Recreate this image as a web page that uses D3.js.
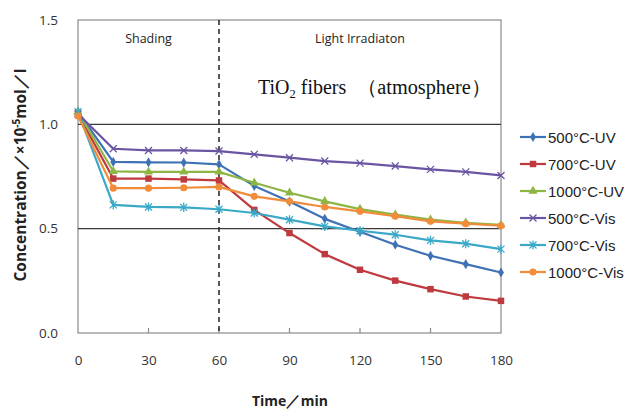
<!DOCTYPE html>
<html>
<head>
<meta charset="utf-8">
<script src="https://cdn.jsdelivr.net/npm/d3@7"></script>
<style>
  html, body { margin: 0; padding: 0; background: #fff; }
  svg { display: block; }
</style>
</head>
<body>
<svg id="chart" width="627" height="409"></svg>
<script>
// Sampling times (min)
const times = [0, 15, 30, 45, 60, 75, 90, 105, 120, 135, 150, 165, 180];

// Concentration (×10^-5 mol/l) for each calcination temperature / light source
const uv500  = [1.06, 0.82, 0.818, 0.817, 0.808, 0.705, 0.63, 0.547, 0.485, 0.423, 0.37, 0.33, 0.29];
const uv700  = [1.05, 0.74, 0.740, 0.736, 0.731, 0.59, 0.479, 0.378, 0.303, 0.251, 0.21, 0.175, 0.154];
const uv1000 = [1.06, 0.775, 0.772, 0.772, 0.772, 0.72, 0.672, 0.631, 0.594, 0.567, 0.543, 0.528, 0.518];
const vis500 = [1.05, 0.883, 0.875, 0.875, 0.872, 0.856, 0.84, 0.824, 0.814, 0.80, 0.784, 0.772, 0.755];
const vis700 = [1.06, 0.614, 0.604, 0.602, 0.593, 0.575, 0.543, 0.511, 0.49, 0.471, 0.444, 0.428, 0.402];
const vis1000= [1.04, 0.694, 0.694, 0.696, 0.70, 0.655, 0.631, 0.604, 0.583, 0.56, 0.535, 0.524, 0.514];

const seriesNames = ["500°C-UV", "700°C-UV", "1000°C-UV", "500°C-Vis", "700°C-Vis", "1000°C-Vis"];
const seriesValues = [uv500, uv700, uv1000, vis500, vis700, vis1000];

const xTicks = [0, 30, 60, 90, 120, 150, 180];
const yTicks = [0.0, 0.5, 1.0, 1.5];
const gridValues = [0.5, 1.0];
const phaseSplit = 60;

const colors = ["#3F72B4", "#BE3A3E", "#8DB544", "#6B55A3", "#3AA9C8", "#F08C3A"];
const markerKinds = ["diamond", "square", "triangle", "x", "star", "circle"];

const svg = d3.select("#chart");
const plot = { left: 78, right: 501, top: 20, bottom: 333 };

const x = d3.scaleLinear().domain([0, 180]).range([plot.left, plot.right]);
const y = d3.scaleLinear().domain([0, 1.5]).range([plot.bottom, plot.top]);

const fontSans = "'Open Sans', 'Liberation Sans', sans-serif";

// Plot frame
svg.append("rect")
  .attr("x", plot.left).attr("y", plot.top)
  .attr("width", plot.right - plot.left).attr("height", plot.bottom - plot.top)
  .attr("fill", "none").attr("stroke", "#8a8a8a").attr("stroke-width", 1.2);

// Horizontal gridlines
svg.append("g").selectAll("line").data(gridValues).join("line")
  .attr("x1", plot.left).attr("x2", plot.right)
  .attr("y1", d => y(d)).attr("y2", d => y(d))
  .attr("stroke", "#3a3a3a").attr("stroke-width", 1.2);

// X axis (ticks point inward, labels below)
const xAxis = d3.axisBottom(x).tickValues(xTicks).tickSize(0).tickPadding(22).tickFormat(d3.format("d"));
const gx = svg.append("g").attr("transform", `translate(0,${plot.bottom})`).call(xAxis);
gx.select(".domain").remove();
gx.selectAll("text").attr("font-family", fontSans).attr("font-size", 13.5).attr("fill", "#333");
svg.append("g").selectAll("line").data(xTicks.slice(1, -1)).join("line")
  .attr("x1", d => x(d)).attr("x2", d => x(d))
  .attr("y1", plot.bottom).attr("y2", plot.bottom - 5)
  .attr("stroke", "#8a8a8a").attr("stroke-width", 1.2);

// Y axis labels
const yAxis = d3.axisLeft(y).tickValues(yTicks).tickSize(0).tickPadding(20).tickFormat(d3.format(".1f"));
const gy = svg.append("g").attr("transform", `translate(${plot.left},0)`).call(yAxis);
gy.select(".domain").remove();
gy.selectAll("text").attr("font-family", fontSans).attr("font-size", 13.5).attr("fill", "#333");

// Boundary between dark adsorption and irradiation phases
svg.append("line")
  .attr("x1", x(phaseSplit)).attr("x2", x(phaseSplit))
  .attr("y1", plot.top).attr("y2", plot.bottom)
  .attr("stroke", "#222").attr("stroke-width", 1.5).attr("stroke-dasharray", "5,4");

// Phase annotations
svg.append("text").attr("x", x(30)).attr("y", 43).attr("text-anchor", "middle")
  .attr("font-family", fontSans).attr("font-size", 12.5).attr("fill", "#222").text("Shading");
svg.append("text").attr("x", x(120)).attr("y", 43).attr("text-anchor", "middle")
  .attr("font-family", fontSans).attr("font-size", 12.5).attr("fill", "#222").text("Light Irradiaton");

const title = svg.append("text").attr("x", 258).attr("y", 94)
  .attr("font-family", "'Liberation Serif', 'DejaVu Serif', serif").attr("font-size", 20).attr("fill", "#111");
title.append("tspan").text("TiO");
title.append("tspan").attr("font-size", 12.5).attr("dy", 4).text("2");
title.append("tspan").attr("dy", -4).text(" fibers");
title.append("tspan").attr("x", 357).attr("textLength", 134).attr("lengthAdjust", "spacingAndGlyphs")
  .text("（atmosphere）");

// Marker shapes
function markerPath(kind, s) {
  switch (kind) {
    case "diamond": return d3.symbol(d3.symbolDiamond, 30)();
    case "square": return d3.symbol(d3.symbolSquare, 42)();
    case "triangle": return d3.symbol(d3.symbolTriangle, 36)();
    case "circle": return d3.symbol(d3.symbolCircle, 40)();
    case "x": return `M${-s},${-s}L${s},${s}M${-s},${s}L${s},${-s}`;
    case "star": return `M${-s},${-s}L${s},${s}M${-s},${s}L${s},${-s}M0,${-s * 1.3}L0,${s * 1.3}`;
  }
}

const line = d3.line().x((d, i) => x(times[i])).y(d => y(d));

seriesValues.forEach((vals, k) => {
  const g = svg.append("g");
  g.append("path").datum(vals)
    .attr("d", line).attr("fill", "none")
    .attr("stroke", colors[k]).attr("stroke-width", 2.2).attr("stroke-linejoin", "round");
  const kind = markerKinds[k];
  const stroked = kind === "x" || kind === "star";
  g.selectAll("path.m").data(vals).join("path").attr("class", "m")
    .attr("transform", (d, i) => `translate(${x(times[i])},${y(d)})`)
    .attr("d", markerPath(kind, 3.5))
    .attr("fill", stroked ? "none" : colors[k])
    .attr("stroke", colors[k]).attr("stroke-width", stroked ? 1.3 : 0);
});

// Legend
const legend = svg.append("g");
seriesNames.forEach((name, k) => {
  const ly = 137 + k * 27;
  const item = legend.append("g").attr("transform", `translate(0,${ly})`);
  item.append("line").attr("x1", 520).attr("x2", 546).attr("y1", 0).attr("y2", 0)
    .attr("stroke", colors[k]).attr("stroke-width", 2.2);
  const kind = markerKinds[k];
  const stroked = kind === "x" || kind === "star";
  item.append("path").attr("transform", "translate(533,0)")
    .attr("d", markerPath(kind, 3.5))
    .attr("fill", stroked ? "none" : colors[k])
    .attr("stroke", colors[k]).attr("stroke-width", stroked ? 1.3 : 0);
  item.append("text").attr("x", 548).attr("y", 5.5)
    .attr("font-family", "'Liberation Sans', Arial, sans-serif").attr("font-size", 15)
    .attr("fill", "#222").text(name);
});

// Axis titles
svg.append("text").attr("x", 290).attr("y", 406).attr("text-anchor", "middle")
  .attr("font-family", fontSans).attr("font-weight", "bold").attr("font-size", 14.5)
  .attr("textLength", 76).attr("lengthAdjust", "spacingAndGlyphs")
  .attr("fill", "#222").text("Time／min");

const yt = svg.append("text")
  .attr("transform", "translate(26,175) rotate(-90)").attr("text-anchor", "middle")
  .attr("font-family", fontSans).attr("font-weight", "bold").attr("font-size", 15.5).attr("fill", "#222");
yt.append("tspan").text("Concentration／×10");
yt.append("tspan").attr("font-size", 10).attr("dy", -6).text("-5");
yt.append("tspan").attr("dy", 6).text("mol／l");
</script>
</body>
</html>
